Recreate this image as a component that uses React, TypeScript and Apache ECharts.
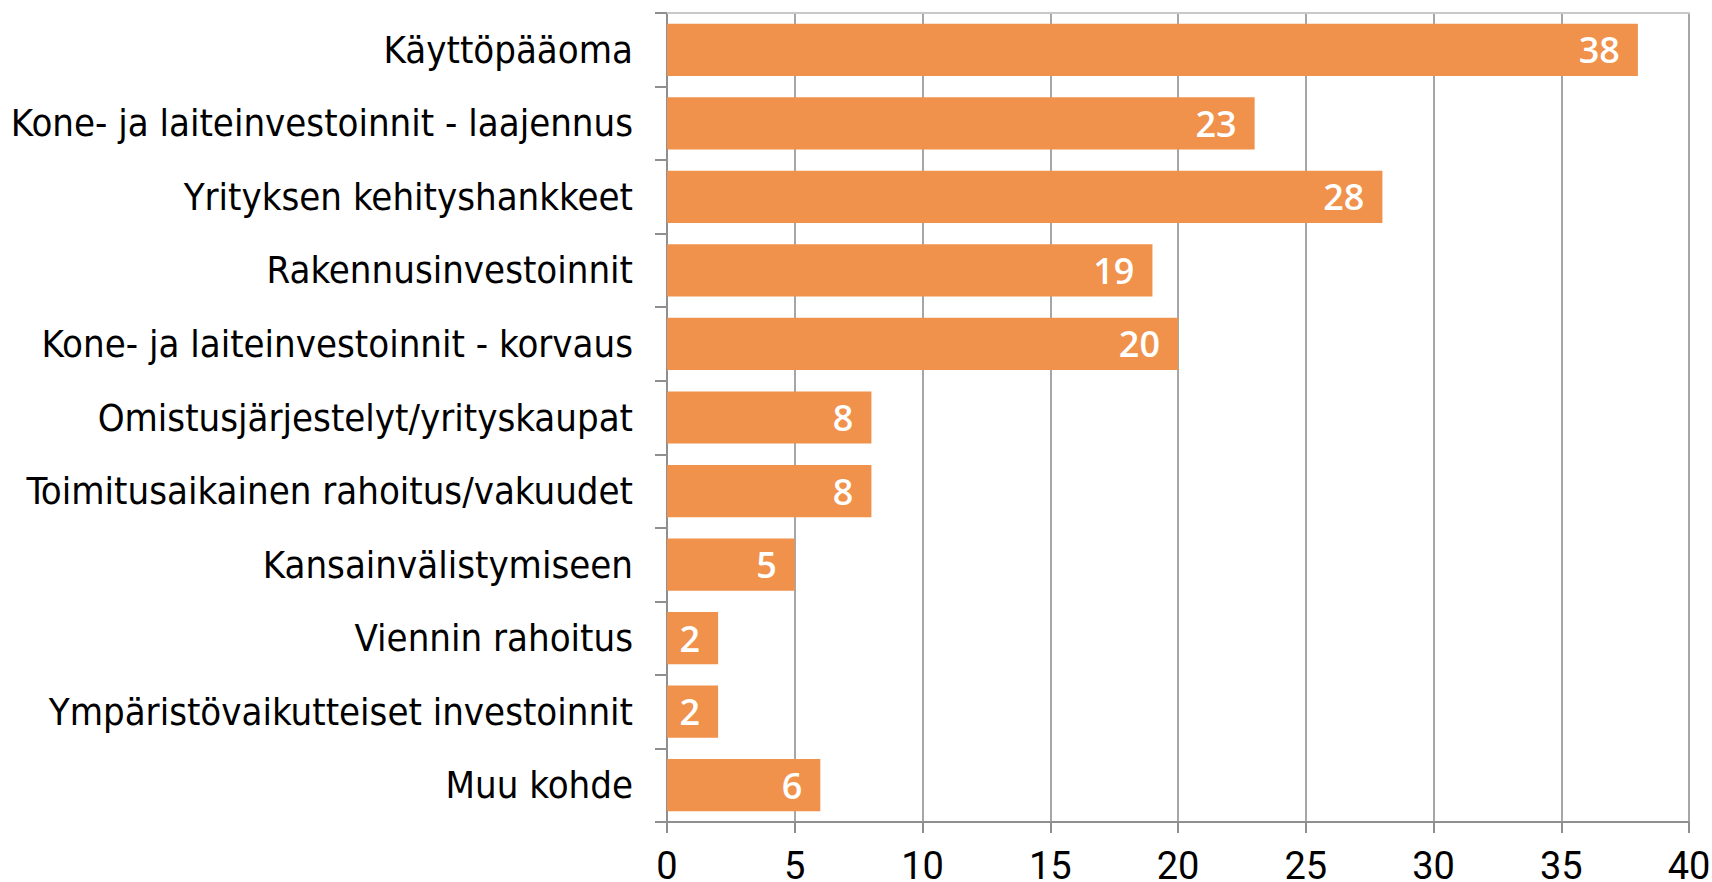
import React, { useEffect, useRef } from "react";
import * as echarts from "echarts";

const categories = [
  "Käyttöpääoma",
  "Kone- ja laiteinvestoinnit - laajennus",
  "Yrityksen kehityshankkeet",
  "Rakennusinvestoinnit",
  "Kone- ja laiteinvestoinnit - korvaus",
  "Omistusjärjestelyt/yrityskaupat",
  "Toimitusaikainen rahoitus/vakuudet",
  "Kansainvälistymiseen",
  "Viennin rahoitus",
  "Ympäristövaikutteiset investoinnit",
  "Muu kohde",
];
const values = [38, 23, 28, 19, 20, 8, 8, 5, 2, 2, 6];
const xMin = 0;
const xMax = 40;
const xInterval = 5;

export default function App() {
  const ref = useRef<HTMLDivElement>(null);
  useEffect(() => {
    if (!ref.current) return;
    const chart = echarts.init(ref.current, undefined, { renderer: "svg" });
    chart.setOption({
      animation: false,
      backgroundColor: "#ffffff",
      grid: {
        left: 667,
        right: 23,
        top: 13,
        bottom: 60,
        containLabel: false,
        outerBoundsMode: "none",
      },
      xAxis: [
        {
          type: "value",
          position: "bottom",
          min: xMin,
          max: xMax,
          interval: xInterval,
          axisLine: { show: true, lineStyle: { color: "#8f8f8f", width: 2 } },
          axisTick: { show: true, inside: false, length: 11, lineStyle: { color: "#8f8f8f", width: 2 } },
          splitLine: { show: true, lineStyle: { color: "#a6a6a6", width: 2 } },
          axisLabel: {
            color: "#000",
            fontFamily: "Liberation Sans Narrow, Roboto",
            fontSize: 38,
            lineHeight: 30,
            margin: 29,
          },
        },
        {
          type: "value",
          position: "top",
          min: xMin,
          max: xMax,
          interval: xInterval,
          axisLine: { show: true, lineStyle: { color: "#c8c8c8", width: 2 } },
          axisTick: { show: false },
          axisLabel: { show: false },
          splitLine: { show: false },
        },
      ],
      yAxis: {
        type: "category",
        inverse: true,
        data: categories,
        axisLine: { show: true, lineStyle: { color: "#8f8f8f", width: 2 } },
        axisTick: { show: true, inside: false, length: 12, alignWithLabel: false, lineStyle: { color: "#8f8f8f", width: 2 } },
        axisLabel: {
          color: "#000",
          fontFamily: "DejaVu Sans Condensed, DejaVu Sans",
          fontSize: 38,
          margin: 34,
        },
      },
      series: [
        {
          type: "bar",
          xAxisIndex: 0,
          data: values,
          barCategoryGap: "29%",
          itemStyle: { color: "#F0924B" },
          label: {
            show: true,
            position: "insideRight",
            distance: 18,
            color: "#ffffff",
            fontFamily: "Open Sans",
            fontSize: 36,
            fontWeight: 600,
          },
        },
      ],
    });
    return () => chart.dispose();
  }, []);
  return (
    <div
      ref={ref}
      style={{ position: "fixed", left: 0, top: 0, width: 1712, height: 882 }}
    />
  );
}
